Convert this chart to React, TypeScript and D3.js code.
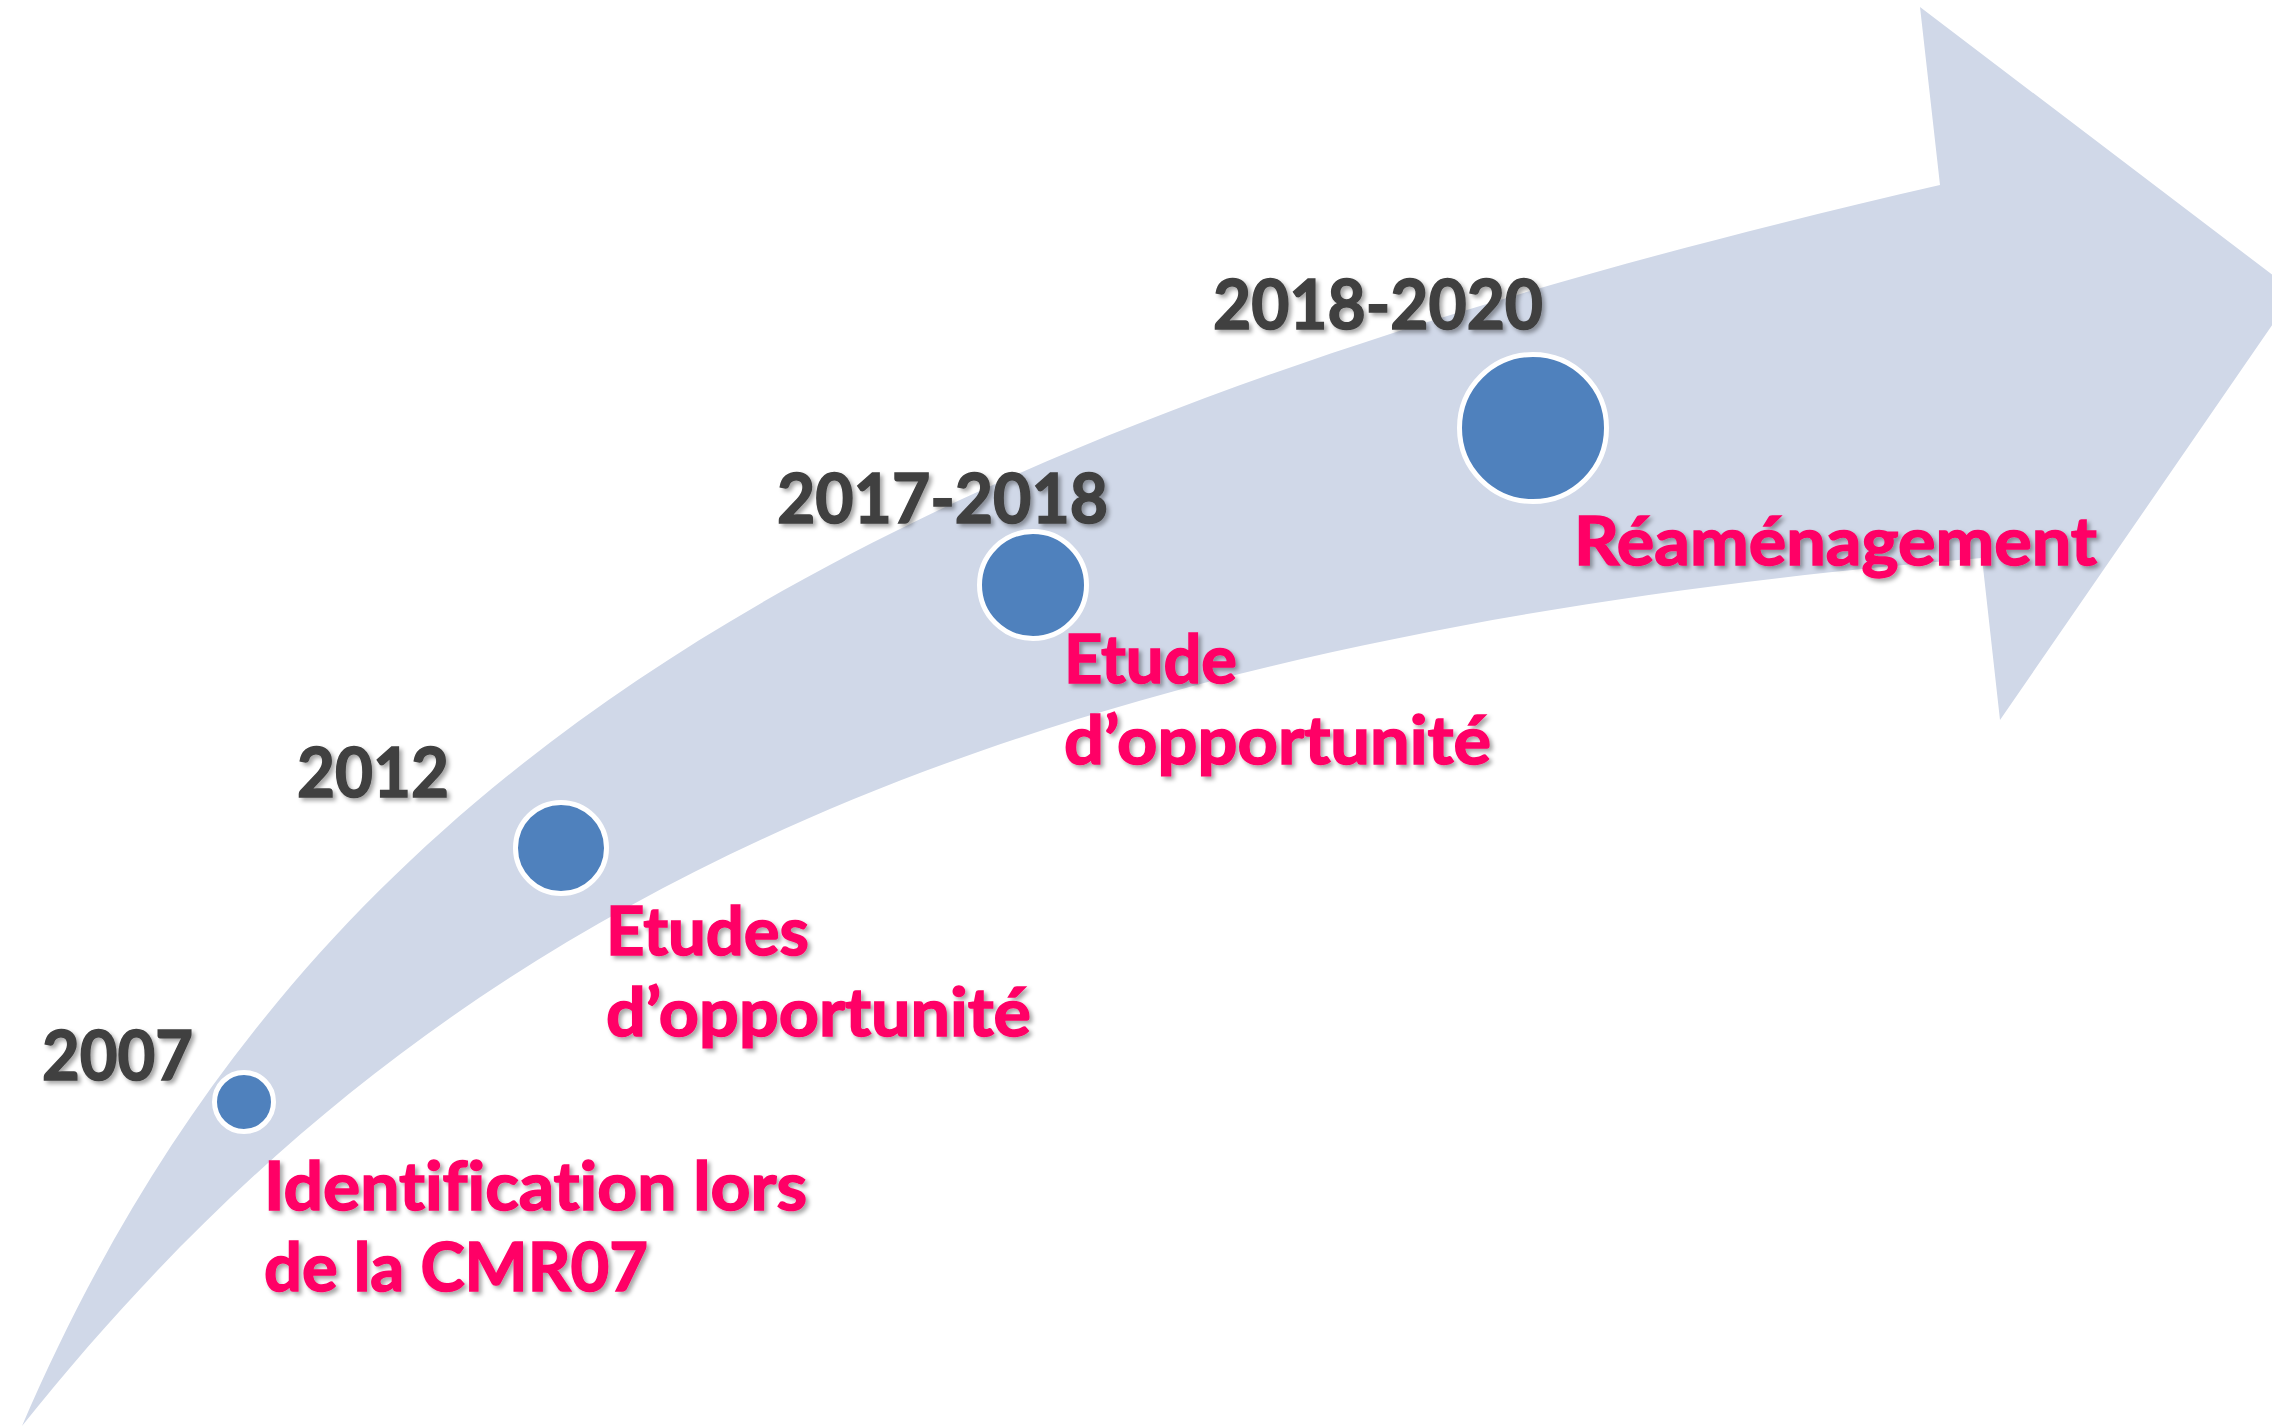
import React from 'react';
import * as d3 from 'd3';

// milestones of the timeline
const years = ['2007', '2012', '2017-2018', '2018-2020'];
const labels = [
  ['Identification lors', 'de la CMR07'],
  ['Etudes', 'd’opportunité'],
  ['Etude', 'd’opportunité'],
  ['Réaménagement'],
];

// layout (canvas 2272 x 1426)
const W = 2272;
const H = 1426;

const dotX = d3.scaleOrdinal<string, number>().domain(years).range([244, 561, 1033, 1533]);
const dotY = d3.scaleOrdinal<string, number>().domain(years).range([1102, 848, 585, 428]);
const dotR = d3.scaleOrdinal<string, number>().domain(years).range([27, 43, 51, 71]);

// year labels: left x, baseline, width
const yearX = d3.scaleOrdinal<string, number>().domain(years).range([42, 297, 777, 1213]);
const yearY = d3.scaleOrdinal<string, number>().domain(years).range([1080, 797, 523, 329]);
const yearW = d3.scaleOrdinal<string, number>().domain(years).range([151, 152, 331, 330]);

// description labels: left x, first baseline, widths per line
const descX = d3.scaleOrdinal<string, number>().domain(years).range([264, 606, 1064, 1574]);
const descY = d3.scaleOrdinal<string, number>().domain(years).range([1210, 955, 683, 565]);
const descW = [[543, 384], [203, 425], [173, 427], [523]];
const lineGap = 81;

// arrow outline: shaft edges as cubic curves, then the head
const arrowPath = () => {
  const p = d3.path();
  p.moveTo(22, 1426);
  p.bezierCurveTo(301, 776, 840, 438, 1940, 185);   // upper edge
  p.lineTo(1920, 7);
  p.lineTo(2295, 292);
  p.lineTo(2000, 720);
  p.lineTo(1982, 558);
  p.bezierCurveTo(882, 648, 382, 976, 22, 1426);    // lower edge
  p.closePath();
  return p.toString();
};

const FONT = 'Lato, "Open Sans", "DejaVu Sans", sans-serif';

export default function App() {
  return (
    <svg width={W} height={H} style={{ position: 'absolute', left: 0, top: 0, background: '#fff' }}>
      <defs>
        <filter id="shadow" x="-10%" y="-30%" width="130%" height="170%">
          <feDropShadow dx="3" dy="3" stdDeviation="2" floodColor="#000" floodOpacity="0.35" />
        </filter>
      </defs>

      <path d={arrowPath()} fill="#D0D8E8" />

      {years.map(y => (
        <circle key={y} cx={dotX(y)} cy={dotY(y)} r={dotR(y) + 2.5} fill="#4F81BD" stroke="#fff" strokeWidth={5} />
      ))}

      <g fontFamily={FONT} fontWeight="bold" filter="url(#shadow)" strokeWidth={1.6}
        style={{ fontVariantLigatures: 'none' }}>
        {years.map(y => (
          <text key={y} x={yearX(y)} y={yearY(y)} fontSize={69} fill="#404040" stroke="#404040"
            textLength={yearW(y)} lengthAdjust="spacingAndGlyphs">{y}</text>
        ))}
        {years.map((y, i) =>
          labels[i].map((line, j) => (
            <text key={y + j} x={descX(y)} y={descY(y) + j * lineGap} fontSize={67} fill="#FF0066" stroke="#FF0066"
              textLength={descW[i][j]} lengthAdjust="spacingAndGlyphs">{line}</text>
          ))
        )}
      </g>
    </svg>
  );
}
